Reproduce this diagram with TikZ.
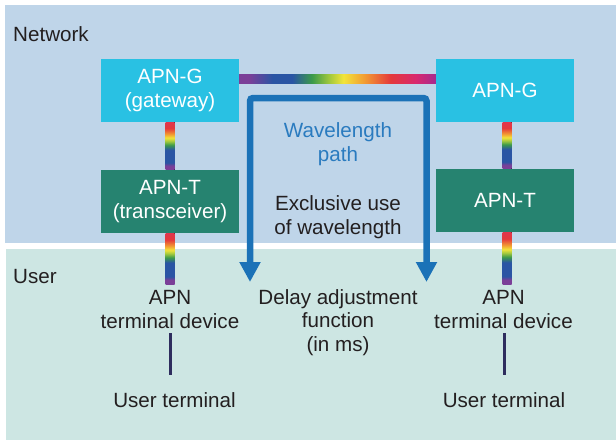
\documentclass[tikz,border=0pt]{standalone}
\usepackage{fontspec}
\setmainfont{Liberation Sans}
\usetikzlibrary{arrows.meta}
\definecolor{netbg}{HTML}{BFD5E9}
\definecolor{userbg}{HTML}{CDE6E3}
\definecolor{gcol}{HTML}{29C1E3}
\definecolor{tcol}{HTML}{268370}
\definecolor{pathblue}{HTML}{1B72B7}
\definecolor{wltext}{HTML}{2A7BBF}
\definecolor{linkdark}{HTML}{2E2D5E}
\definecolor{txtc}{HTML}{231F20}
\definecolor{rbPurple}{HTML}{7B3F98}
\definecolor{rbBlue}{HTML}{2A55A4}
\definecolor{rbGreen}{HTML}{3B9A4A}
\definecolor{rbLime}{HTML}{A3C93D}
\definecolor{rbYellow}{HTML}{F2E53A}
\definecolor{rbOrange}{HTML}{F29A32}
\definecolor{rbRed}{HTML}{E4393B}
\definecolor{rbRedTop}{HTML}{E0364E}
\definecolor{rbPink}{HTML}{D8296F}
\definecolor{rbMagenta}{HTML}{A62A8F}
\pgfdeclarehorizontalshading{rainbowH}{100bp}{color(0bp)=(rbPurple); color(25bp)=(rbPurple); color(27.5bp)=(rbPurple); color(33.5bp)=(rbBlue); color(38.5bp)=(rbBlue); color(43.5bp)=(rbGreen); color(48bp)=(rbLime); color(51.5bp)=(rbYellow); color(57bp)=(rbOrange); color(63.5bp)=(rbRed); color(70bp)=(rbPink); color(75bp)=(rbMagenta); color(100bp)=(rbMagenta)}
\pgfdeclareverticalshading{rainbowV}{100bp}{color(0bp)=(rbPurple); color(25bp)=(rbPurple); color(29bp)=(rbPurple); color(32.5bp)=(rbBlue); color(46bp)=(rbBlue); color(51bp)=(rbGreen); color(55bp)=(rbLime); color(58.5bp)=(rbYellow); color(62.5bp)=(rbOrange); color(68.5bp)=(rbRed); color(75bp)=(rbRedTop); color(100bp)=(rbRedTop)}
\tikzset{
  lbl/.style={text=txtc, font=\fontsize{20.6}{23.5}\selectfont, align=center, inner sep=0pt},
  boxbase/.style={minimum width=138pt, minimum height=63pt, inner sep=0pt, align=center, text=white, font=\fontsize{20.6}{23.5}\selectfont},
  gbox/.style={boxbase, fill=gcol},
  tbox/.style={boxbase, fill=tcol},
  rainbowh/.style={shading=rainbowH},
  rainbowv/.style={shading=rainbowV},
  wlpath/.style={draw=pathblue, line width=6.5pt, rounded corners=3pt, {Triangle[width=20pt,length=20pt]}-{Triangle[width=20pt,length=20pt]}},
  dlink/.style={draw=linkdark, line width=3pt}
}
\begin{document}
\begin{tikzpicture}[x=1pt,y=-1pt]
\useasboundingbox (0,0) rectangle (616,440);
\fill[white] (0,0) rectangle (616,440);
% panels
\fill[netbg] (4.5,5) rectangle (616,243);
\fill[userbg] (5.5,248.5) rectangle (616,440);
\node[lbl, anchor=base west] (net) at (13,41) {Network};
\node[lbl, anchor=base west] (usr) at (13,283) {User};
% boxes
\node[gbox] (g1) at (170,90.5) {APN-G\\(gateway)};
\node[gbox] (g2) at (505,90.5) {APN-G};
\node[tbox] (t1) at (170,201.5) {APN-T\\(transceiver)};
\node[tbox] (t2) at (505,200.5) {APN-T};
% text (base = baseline of last line)
\node[lbl, text=wltext, anchor=base] (wl) at (338,161) {Wavelength\\path};
\node[lbl, anchor=base] (ex) at (338,234) {Exclusive use\\of wavelength};
\node[lbl, anchor=base] (dl) at (338,351) {Delay adjustment\\function\\(in ms)};
\node[lbl, anchor=base] (td1) at (170,328) {APN\\terminal device};
\node[lbl, anchor=base] (td2) at (503.5,328) {APN\\terminal device};
\node[lbl, anchor=base] (ut1) at (174.5,407) {User terminal};
\node[lbl, anchor=base] (ut2) at (504,407) {User terminal};
% rainbow links
\fill[rainbowh] ([yshift=16.5pt]g1.east) rectangle ([yshift=7.5pt]g2.west);
\fill[rainbowv] ([xshift=-4.5pt]g1.south) rectangle ([xshift=4.5pt]t1.north);
\fill[rainbowv] ([xshift=-2.5pt]g2.south) rectangle ([xshift=6.5pt]t2.north);
\fill[rainbowv] ([xshift=-4.5pt]t1.south) rectangle ([xshift=4.5pt,yshift=6pt]t1.south |- td1.north);
\fill[rainbowv] ([xshift=-2.5pt]t2.south) rectangle ([xshift=6.5pt,yshift=6pt]t2.south |- td2.north);
% user links
\draw[dlink] ([yshift=-5pt]td1.south) -- ([yshift=17pt]td1.south |- ut1.north);
\draw[dlink] ([xshift=0.5pt,yshift=-5pt]td2.south) -- ([xshift=0.5pt,yshift=17pt]td2.south |- ut2.north);
% wavelength path
\coordinate (aL) at (250,282);
\coordinate (aT) at (338,98);
\coordinate (aR) at (426.5,282);
\draw[wlpath] (aL) |- (aT) -| (aR);
\end{tikzpicture}
\end{document}
